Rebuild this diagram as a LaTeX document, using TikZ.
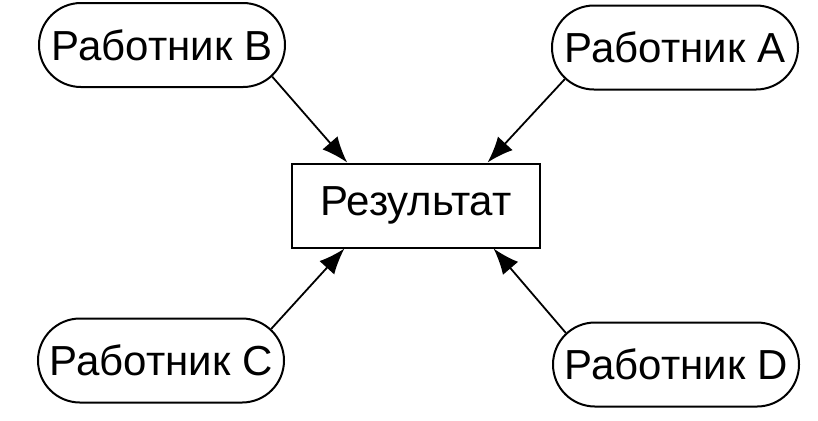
\documentclass[tikz,border=0pt]{standalone}
\usepackage{fontspec}
\setmainfont{Liberation Sans}
\usetikzlibrary{shapes.misc, arrows.meta, positioning}
\usetikzlibrary{calc}

\begin{document}
\begin{tikzpicture}[x=0.5pt,y=-0.5pt,
		worker/.style={rounded rectangle, draw, line width=1pt, minimum width=129pt, minimum height=42pt, inner sep=3pt, font=\fontsize{21}{25}\selectfont},
		result/.style={rectangle, draw, line width=1pt, minimum width=124pt, minimum height=42pt, inner sep=3pt, font=\fontsize{21}{25}\selectfont},
		toresult/.style={-{Latex[length=13pt,width=10pt]}, line width=0.9pt}]
		\useasboundingbox (0,0) rectangle (818,420);
		\draw (162,45) node[worker] (wb) {Работник B}
		(675,47.5) node[worker] (wa) {Работник A}
		(161,360.5) node[worker] (wc) {Работник C}
		(676,364.5) node[worker] (wd) {Работник D}
		(416,205.5) node[result] (res) {Результат};
		
		\draw[toresult] (wb.-16) -- (res.148);
		\draw[toresult] (wa.196) -- (res.31);
		\draw[toresult] (wc.16) -- (res.-149);
		\draw[toresult] (wd.164) -- (res.-29);
	\end{tikzpicture}
\end{document}
